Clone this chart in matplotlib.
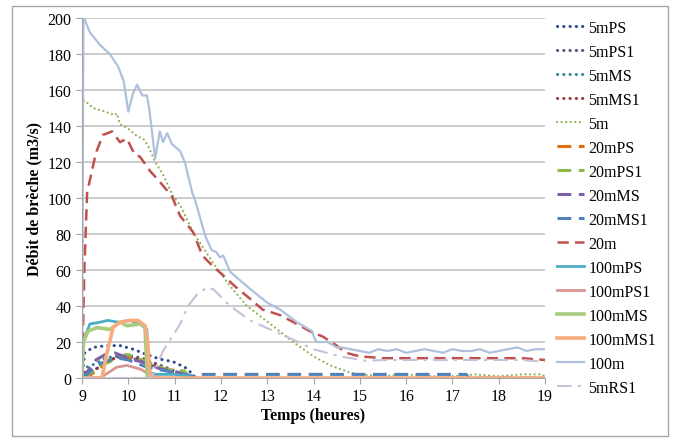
import matplotlib
matplotlib.use("Agg")
import matplotlib.pyplot as plt
from matplotlib.patches import Rectangle

plt.rcParams['font.family'] = ['Liberation Serif', 'DejaVu Serif']

# --- données (temps en heures, débit en m3/s) ---
t_5mPS = [9.0, 9.06, 9.24, 9.54, 9.82, 10.1, 10.4, 10.68, 10.97, 11.22, 11.4, 11.45]
q_5mPS = [0, 14, 17, 18, 18, 16, 13, 10.5, 9, 6, 2, 0]

t_5mPS1 = [9.0, 9.1, 9.3, 9.5, 9.7, 9.9, 10.1, 10.3, 10.5, 10.7, 10.9, 11.1, 11.3]
q_5mPS1 = [0, 3, 5, 8, 11, 13, 12, 11, 9, 7, 5, 3, 0]

t_5mMS = [9.0, 9.1, 9.3, 9.5, 9.7, 9.9, 10.1, 10.3, 10.5, 10.7, 10.9, 11.1, 11.3, 11.4]
q_5mMS = [0, 6, 8, 11, 12, 12, 11, 9, 7, 5, 4, 3, 1, 0]

t_5mMS1 = [9.0, 9.1, 9.3, 9.5, 9.7, 9.9, 10.1, 10.3, 10.5, 10.7, 10.9, 11.1, 11.3]
q_5mMS1 = [0, 4, 5, 8, 11, 12, 11, 10, 8, 6, 4, 2, 0]

t_5m = [9.0, 9.02, 9.06, 9.24, 9.5, 9.71, 9.75, 9.82, 9.97, 10.21, 10.32, 10.43,
        10.58, 10.75, 10.97, 11.12, 11.4, 11.83, 12.2, 12.56, 13.12, 13.56, 14.0,
        14.36, 14.79, 15.0, 15.5, 16.0, 16.5, 17.0, 17.5, 18.0, 18.5, 18.9, 19.0]
q_5m = [0, 154, 154, 150, 148, 146, 147, 141, 139, 134, 133, 129,
        120, 113, 101, 96, 81, 64, 51, 40, 29, 20, 12,
        7, 3, 2, 1, 2, 1, 1, 2, 1, 2, 2, 1]

t_20mPS = [9.0, 9.2, 9.4, 9.6, 9.8, 10.0, 10.2, 10.4, 10.6, 10.8, 11.0, 11.2, 11.35]
q_20mPS = [0, 2, 6, 10, 12, 11, 10, 8, 6, 5, 4, 3, 0]

t_20mPS1 = [9.0, 9.2, 9.4, 9.6, 9.8, 10.0, 10.2, 10.4, 10.6, 10.8, 11.0, 11.2, 11.35]
q_20mPS1 = [0, 3, 7, 9, 12, 13, 11, 9, 7, 5, 4, 4, 0]

t_20mMS = [9.0, 9.1, 9.3, 9.5, 9.7, 9.9, 10.1, 10.3, 10.5, 10.7, 10.9, 11.1, 11.3]
q_20mMS = [0, 3, 10, 13, 14, 12, 10, 9, 7, 5, 4, 3, 0]

t_20mMS1 = [9.0, 9.2, 9.4, 9.6, 9.8, 10.0, 10.2, 10.4, 10.6, 10.8, 11.0, 11.2,
            11.4, 11.5, 17.3, 17.35, 19.0]
q_20mMS1 = [0, 4, 8, 10, 11, 10, 8, 6, 5, 4, 3, 2, 1, 2, 2, 0, 0]

t_20m = [9.0, 9.05, 9.11, 9.3, 9.45, 9.65, 9.82, 9.97, 10.14, 10.25, 10.47, 10.68,
         10.94, 11.12, 11.4, 11.6, 11.83, 12.05, 12.3, 12.63, 12.9, 13.27, 13.64,
         13.92, 14.2, 14.5, 14.7, 15.0, 15.5, 16.0, 16.5, 17.0, 17.5, 18.0, 18.5, 19.0]
q_20m = [0, 60, 103, 125, 135, 137, 131, 133, 124, 123, 115, 109,
         101, 90, 81, 68, 62, 57, 51, 44, 38, 35, 30,
         26, 23, 18, 14, 12, 11, 11, 11, 11, 11, 11, 11, 10]

t_100mPS = [9.0, 9.02, 9.17, 9.39, 9.56, 9.78, 10.04, 10.25, 10.4, 10.45, 10.6, 11.0, 11.3, 11.4]
q_100mPS = [0, 20, 30, 31, 32, 31, 32, 30, 27, 3, 2, 2, 1, 0]

t_100mPS1 = [9.0, 9.39, 9.75, 9.97, 10.25, 10.47, 10.68]
q_100mPS1 = [0, 0, 6, 7, 5, 2, 0]

t_100mMS = [9.0, 9.03, 9.13, 9.32, 9.6, 9.82, 9.97, 10.25, 10.36, 10.41]
q_100mMS = [0, 20, 26, 28, 27, 31, 29, 30, 29, 0]

t_100mMS1 = [9.0, 9.43, 9.54, 9.67, 9.82, 10.04, 10.21, 10.36, 10.42, 10.47, 19.0]
q_100mMS1 = [0, 0, 14, 28, 31, 32, 32, 29, 20, 0, 0]

t_100m = [9.0, 9.03, 9.06, 9.17, 9.39, 9.6, 9.78, 9.9, 10.0, 10.1, 10.19, 10.3,
          10.4, 10.45, 10.58, 10.68, 10.75, 10.84, 10.94, 11.12, 11.22, 11.38,
          11.44, 11.66, 11.8, 11.9, 11.98, 12.05, 12.2, 12.56, 12.99, 13.28,
          13.64, 13.97, 14.02, 14.07, 14.3, 14.5,
          14.6, 14.8, 15.0, 15.2, 15.4, 15.6, 15.8, 16.0, 16.2, 16.4, 16.6, 16.8,
          17.0, 17.2, 17.4, 17.6, 17.8, 18.0, 18.2, 18.4, 18.6, 18.8, 19.0]
q_100m = [0, 200, 199, 192, 185, 180, 173, 165, 148, 158, 163, 157,
          157, 150, 122, 137, 131, 136, 130, 126, 120, 103,
          99, 79, 71, 70, 67, 68, 59, 51, 42, 38,
          31, 26, 22, 20, 20, 17,
          17, 16, 15, 14, 16, 15, 16, 14, 15, 16, 15, 14,
          16, 15, 15, 16, 14, 15, 16, 17, 15, 16, 16]

t_5mRS1 = [9.0, 10.5, 10.75, 11.12, 11.29, 11.5, 11.72, 11.85, 12.2, 12.63, 13.06,
           13.5, 14.0, 14.57, 15.15, 15.5, 16.0, 16.5, 17.0, 17.5, 18.0, 18.5, 19.0]
q_5mRS1 = [0, 0, 15, 30, 40, 47, 50.5, 49, 40, 32, 27,
           22, 16, 12, 9.5, 10, 10, 10, 10, 10, 10, 10, 9]

dot = (0, (0.05, 2.0))
dsh = (0, (4.5, 2.5))
series = [
    ('5mPS', t_5mPS, q_5mPS, '#2B4C8C', dot, 2.2),
    ('5mPS1', t_5mPS1, q_5mPS1, '#604A7B', dot, 2.2),
    ('5mMS', t_5mMS, q_5mMS, '#31859C', dot, 2.2),
    ('5mMS1', t_5mMS1, q_5mMS1, '#953735', dot, 2.2),
    ('5m', t_5m, q_5m, '#8DB255', (0, (0.05, 2.0)), 1.6),
    ('20mPS', t_20mPS, q_20mPS, '#E46C0A', dsh, 2.2),
    ('20mPS1', t_20mPS1, q_20mPS1, '#8DB84A', dsh, 2.2),
    ('20mMS', t_20mMS, q_20mMS, '#7F5FA8', dsh, 2.2),
    ('20mMS1', t_20mMS1, q_20mMS1, '#4F81BD', dsh, 2.2),
    ('20m', t_20m, q_20m, '#C0504D', dsh, 1.8),
    ('100mPS', t_100mPS, q_100mPS, '#4BACC6', '-', 2.0),
    ('100mPS1', t_100mPS1, q_100mPS1, '#D99694', '-', 2.0),
    ('100mMS', t_100mMS, q_100mMS, '#A9CB7E', '-', 2.6),
    ('100mMS1', t_100mMS1, q_100mMS1, '#F7AC7C', '-', 2.6),
    ('100m', t_100m, q_100m, '#AFC0DD', '-', 1.6),
    ('5mRS1', t_5mRS1, q_5mRS1, '#C9BFD9', (0, (7, 3, 1.5, 3)), 1.5),
]

fig = plt.figure(figsize=(6.8, 4.39), dpi=100)
ax = fig.add_axes([0.1206, 0.1367, 0.6809, 0.82])

for nom, t, q, c, ls, lw in series:
    rond = isinstance(ls, tuple) and ls[1][0] < 0.5
    ax.plot(t, q, color=c, linestyle=ls, linewidth=lw, label=nom,
            dash_capstyle='round' if rond else 'butt')

ax.set_xlim(9, 19)
ax.set_ylim(0, 200)
ax.set_xticks(range(9, 20))
ax.set_yticks(range(0, 201, 20))
ax.yaxis.grid(True, color='#C8C8C8', linewidth=1.3)
ax.set_axisbelow(True)
for s in ['top', 'right']:
    ax.spines[s].set_visible(False)
for s in ['left', 'bottom']:
    ax.spines[s].set_color('#A6A6A6')
ax.tick_params(axis='both', direction='out', color='#A6A6A6', labelsize=11.5, length=4)
ax.set_xlabel('Temps (heures)', fontsize=11.5, fontweight='bold', labelpad=2)
ax.set_ylabel('Débit de brèche (m3/s)', fontsize=11.5, fontweight='bold', labelpad=4)

fig.legend(loc='upper left', bbox_to_anchor=(0.798, 0.985), frameon=False,
           fontsize=11.5, handlelength=1.7, handletextpad=0.25, labelspacing=0.5)

# cadre autour du graphique
fig.patches.append(Rectangle((0.018, 0.005), 0.965, 0.98, transform=fig.transFigure,
                             fill=False, edgecolor='#A6A6A6', linewidth=1))

fig.savefig('out.png', dpi=100)
